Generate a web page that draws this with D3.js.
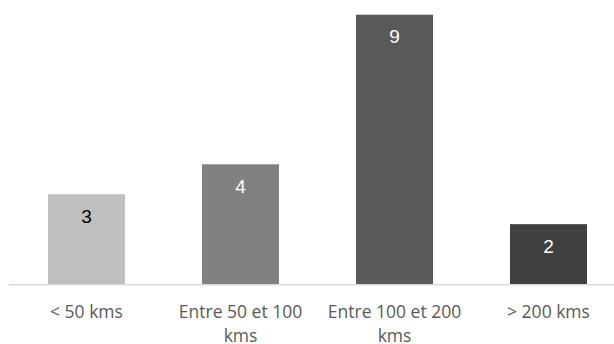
<!DOCTYPE html>
<html>
<head>
<meta charset="utf-8">
<script src="https://cdn.jsdelivr.net/npm/d3@7"></script>
<style>
  body { margin: 0; background: #fff; }
  svg { display: block; }
</style>
</head>
<body>
<svg id="chart"></svg>
<script>
const categories = ["< 50 kms", "Entre 50 et 100 kms", "Entre 100 et 200 kms", "> 200 kms"];
const labelLines = [["< 50 kms"], ["Entre 50 et 100", "kms"], ["Entre 100 et 200", "kms"], ["> 200 kms"]];
const values = [3, 4, 9, 2];
const barColors = ["#bfbfbf", "#808080", "#595959", "#404040"];
const valueColors = ["#000000", "#ffffff", "#ffffff", "#ffffff"];

const width = 614;
const height = 344;
const baseY = 284;

const svg = d3.select("#chart")
              .attr("width", width)
              .attr("height", height);

const x = d3.scaleBand()
            .domain(categories)
            .range([9.5, 625.5])
            .paddingInner(0.5)
            .paddingOuter(0.25);

const y = d3.scaleLinear()
            .domain([0, 9])
            .range([baseY, 14.7]);

svg.selectAll(".bar")
   .data(values)
   .enter()
   .append("rect")
   .attr("class", "bar")
   .attr("x", (d, i) => x(categories[i]))
   .attr("y", d => y(d))
   .attr("width", x.bandwidth())
   .attr("height", d => y(0) - y(d))
   .attr("fill", (d, i) => barColors[i]);

// axis line
svg.append("line")
   .attr("x1", 9)
   .attr("x2", width)
   .attr("y1", baseY + 0.7)
   .attr("y2", baseY + 0.7)
   .attr("stroke", "#d9d9d9")
   .attr("stroke-width", 1.6);

// value labels
svg.selectAll(".val")
   .data(values)
   .enter()
   .append("text")
   .attr("class", "val")
   .attr("x", (d, i) => x(categories[i]) + x.bandwidth() / 2)
   .attr("y", d => y(d) + 28.5)
   .attr("text-anchor", "middle")
   .attr("fill", (d, i) => valueColors[i])
   .style("font-family", "'Liberation Sans', Arial, sans-serif")
   .style("font-size", "19px")
   .text(d => d);

// category labels
categories.forEach((c, i) => {
    const t = svg.append("text")
                 .attr("x", x(c) + x.bandwidth() / 2)
                 .attr("y", 318)
                 .attr("text-anchor", "middle")
                 .attr("fill", "#595959")
                 .style("font-family", "'Open Sans', sans-serif")
                 .style("font-size", "17.5px");
    labelLines[i].forEach((line, j) => {
        t.append("tspan")
         .attr("x", x(c) + x.bandwidth() / 2)
         .attr("dy", j === 0 ? 0 : 23.5)
         .text(line);
    });
});
</script>
</body>
</html>
